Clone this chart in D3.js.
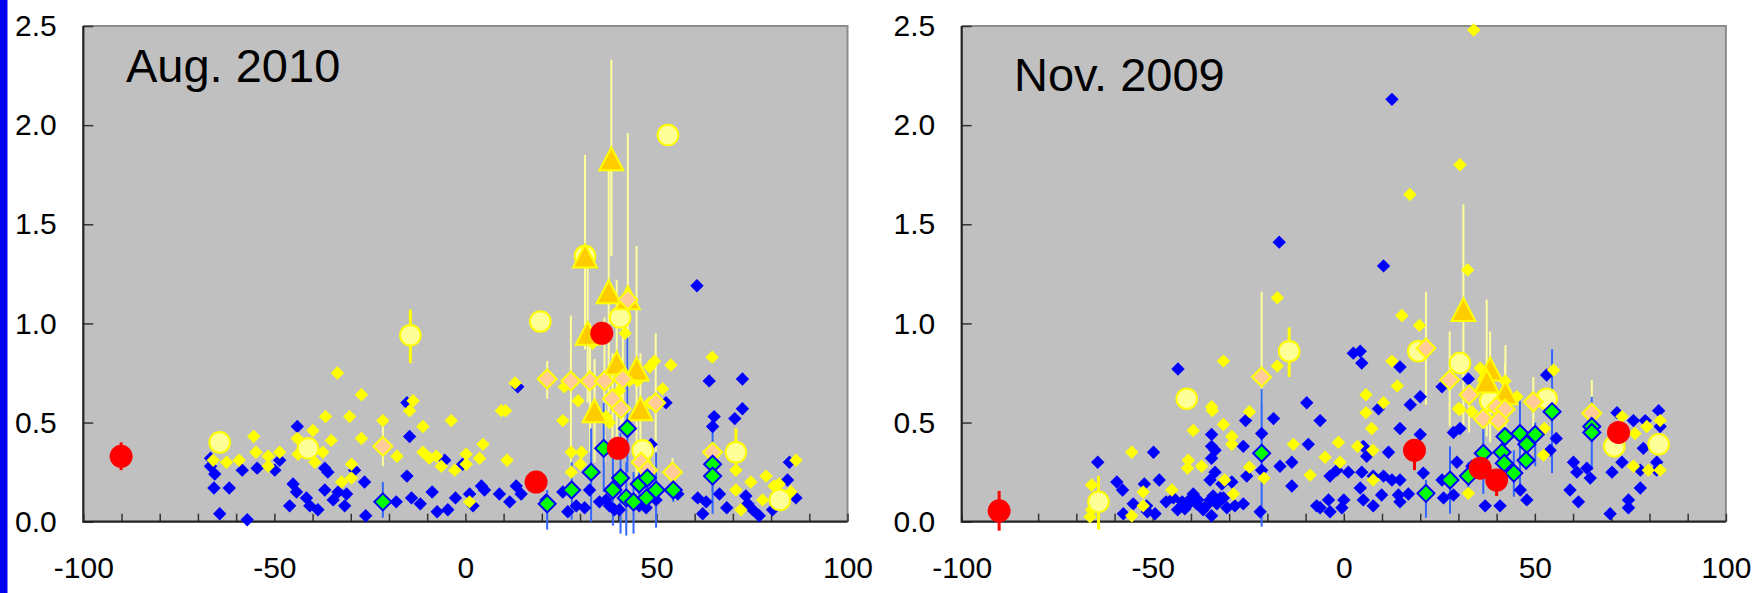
<!DOCTYPE html>
<html>
<head>
<meta charset="utf-8">
<script src="https://cdn.jsdelivr.net/npm/d3@7"></script>
<style>
  body { margin: 0; background: #fff; }
  svg { display: block; }
  text { font-family: "Liberation Sans", Arial, sans-serif; fill: #000; }
</style>
</head>
<body>
<svg id="chart" width="1758" height="593"></svg>
<script>
// eixo x: latitude, eixo y: valor medido
const xTicks = [-100, -50, 0, 50, 100];
const yTicks = [0, 0.5, 1.0, 1.5, 2.0, 2.5];
const panelTitles = ["Aug. 2010", "Nov. 2009"];

// ---- Aug. 2010 ----  pontos simples [x, y]
const augBlue = [
  [-66.7,0.32],[-66.7,0.28],[-65.6,0.24],[-65.8,0.17],[-61.8,0.17],[-64.3,0.04],[-58.4,0.26],[-57.1,0.01],
  [-54.5,0.27],[-49.9,0.26],[-48.6,0.31],[-44,0.48],[-45.1,0.19],[-46,0.08],[-44.2,0.15],[-41.6,0.12],
  [-40.7,0.08],[-38.6,0.06],[-36.8,0.27],[-36,0.25],[-36.8,0.16],[-34.6,0.11],[-33.3,0.15],[-31.1,0.14],
  [-31.6,0.08],[-29,0.26],[-26.4,0.2],[-26.1,0.03],[-18.1,0.1],[-15.3,0.23],[-14.6,0.43],[-15.3,0.6],
  [-14.1,0.12],[-11.8,0.09],[-8.7,0.15],[-7.4,0.05],[-4.6,0.06],[-5.4,0.31],[-2.6,0.12],[-0.7,0.29],
  [1.1,0.14],[2,0.08],[4.2,0.18],[5,0.16],[8.9,0.14],[11.6,0.1],[13.3,0.18],[14.6,0.14],[13.7,0.68],
  [21.1,0.11],[25.5,0.15],[26.8,0.05],[29,0.08],[31.2,0.07],[32.5,0.16],[35.1,0.1],[36.8,0.11],[37.7,0.08],
  [39,0.06],[40.3,0.06],[45.5,0.08],[47.3,0.07],[49.9,0.11],[48.6,0.39],[52.5,0.6],[55.6,0.14],[60.6,1.19],
  [60.8,0.12],[62.1,0.04],[63,0.1],[63.8,0.71],[65.1,0.53],[64.7,0.48],[66.5,0.14],[68.4,0.07],[70.5,0.52],
  [72.5,0.72],[72.5,0.57],[73.4,0.13],[73.9,0.09],[75.2,0.06],[76.9,0.03],[80.4,0.06],[84.3,0.21],
  [84.8,0.3],[86.5,0.12]
];
const augYellow = [
  [-66,0.31],[-62.5,0.3],[-59.2,0.31],[-55.4,0.43],[-54.8,0.35],[-51.6,0.33],[-51.6,0.28],[-48.6,0.35],
  [-43.8,0.34],[-44,0.42],[-39.9,0.46],[-39.4,0.3],[-37.3,0.35],[-36.6,0.53],[-35.1,0.41],[-33.5,0.75],
  [-32.4,0.2],[-30.3,0.53],[-29.8,0.29],[-29.8,0.22],[-27.2,0.64],[-27.2,0.42],[-21.6,0.51],[-17.9,0.33],
  [-14.6,0.56],[-13.7,0.61],[-11.1,0.48],[-11.1,0.35],[-9.4,0.32],[-7.6,0.33],[-6.3,0.28],[-3.7,0.51],
  [-2.8,0.26],[0.2,0.34],[0.2,0.29],[1.1,0.1],[3.7,0.32],[4.6,0.39],[9.4,0.56],[10.5,0.56],[10.9,0.31],
  [13,0.7],[25.5,0.51],[25.9,0.68],[27.7,0.35],[27.7,0.25],[29.5,0.61],[30.4,0.35],[30.1,0.29],[33.3,0.9],
  [41.8,0.95],[36.8,0.53],[37.7,0.5],[40.3,0.66],[42.9,0.71],[45.1,0.71],[48.2,0.78],[49.5,0.81],
  [53.8,0.79],[51.6,0.67],[48.2,0.6],[45.5,0.38],[64.6,0.83],[64.3,0.35],[71.2,0.34],[70.8,0.26],
  [70.8,0.16],[72.1,0.06],[74.7,0.2],[77.8,0.11],[78.7,0.23],[80.8,0.18],[82.1,0.19],[85.2,0.15],[86.5,0.31]
];
// pontos com barra de erro [x, y, min, max]
const augCircle = [
  [-64.3,0.40,0.40,0.40],[-41.2,0.37,0.37,0.37],[-14.4,0.94,0.80,1.07],[19.6,1.01,1.01,1.01],
  [53.0,1.95,1.95,1.95],[40.5,1.03,1.03,1.03],[31.3,1.34,1.34,1.34],[46.4,0.36,0.36,0.36],
  [70.8,0.35,0.23,0.47],[82.3,0.11,0.11,0.11]
];
const augTriangle = [
  [31.3,1.34,0.87,1.85],[38.2,1.83,1.34,2.33],[37.5,1.16,0.55,1.77],[42.5,1.13,0.50,1.96],
  [32.0,0.95,0.60,1.29],[39.6,0.80,0.38,1.22],[44.8,0.77,0.16,1.39],[33.8,0.56,0.30,0.82],[45.8,0.57,0.30,0.85]
];
const augPeach = [
  [-21.6,0.38,0.28,0.48],[21.4,0.72,0.62,0.81],[27.6,0.71,0.03,1.04],[32.6,0.71,0.35,1.00],
  [36.4,0.71,0.30,1.03],[41.2,0.72,0.45,1.00],[42.5,1.12,1.12,1.12],[38.5,0.62,0.40,0.85],
  [40.7,0.57,0.40,0.80],[49.8,0.60,0.25,0.95],[46.0,0.30,0.20,0.40],[47.7,0.26,0.26,0.26],
  [54.2,0.25,0.20,0.32],[64.7,0.35,0.30,0.40]
];
const augGreen = [
  [-21.6,0.10,0.02,0.20],[21.4,0.09,-0.04,0.16],[27.8,0.16,0.01,0.30],[32.9,0.25,0.00,0.47],
  [36.2,0.37,0.15,0.60],[42.4,0.47,0.25,0.93],[38.6,0.16,-0.02,0.35],[40.6,0.22,-0.06,0.45],
  [42.1,0.12,-0.07,0.30],[44.0,0.10,-0.06,0.25],[45.5,0.19,0.10,0.30],[47.6,0.22,0.15,0.30],
  [47.4,0.12,0.05,0.20],[49.9,0.16,-0.03,0.35],[54.4,0.16,0.10,0.22],[64.7,0.29,0.15,0.46],
  [64.7,0.23,0.04,0.40]
];
const augRed = [
  [-90.1,0.33,0.26,0.40],[18.5,0.20,0.20,0.20],[35.7,0.95,0.95,0.95],[40.0,0.37,0.37,0.37]
];

// ---- Nov. 2009 ----
const novBlue = [
  [-64.4,0.30],[-59.4,0.20],[-57.9,0.16],[-57.7,0.04],[-55.1,0.09],[-52.2,0.19],[-49.8,0.35],[-51.6,0.08],
  [-51.4,0.05],[-49.4,0.04],[-48.3,0.21],[-43.4,0.77],[-44.6,0.12],[-43.5,0.06],[-41.1,0.08],[-39.4,0.14],
  [-38.5,0.09],[-36.8,0.06],[-34.6,0.44],[-34.6,0.38],[-33.7,0.36],[-34.6,0.32],[-35,0.21],[-33.7,0.25],
  [-31.9,0.19],[-35,0.11],[-33.2,0.09],[-31.5,0.12],[-29.3,0.2],[-30.6,0.07],[-28.5,0.08],[-26.3,0.38],
  [-25.7,0.51],[-25.4,0.23],[-26.3,0.09],[-21.9,0.05],[-21.5,0.445],[-21.5,0.26],[-18.4,0.52],[-16.7,0.28],
  [-13.6,0.3],[-13.6,0.18],[-9.7,0.6],[-9.3,0.39],[-6.2,0.51],[-7.1,0.08],[-4,0.11],[-3.6,0.23],
  [-3.6,0.05],[-16.9,1.41],[-39.9,0.12],[-38.2,0.11],[-36,0.08],[-34.2,0.13],[-32.3,0.12],[-34.6,0.03],
  [-42.3,0.1],[-46.5,0.1],[-41.6,0.065],[-1.8,0.26],[1.2,0.25],[4.7,0.25],[4.3,0.17],[7.7,0.23],[10.4,0.23],
  [12.6,0.21],[14.7,0.21],[9.9,0.135],[5.1,0.11],[7.7,0.08],[14.3,0.135],[14.7,0.1],[16.9,0.14],[20.8,0.245],
  [25.7,0.21],[26.1,0.12],[28.7,0.135],[29.6,0.3],[28.7,0.45],[30.4,0.47],[25.7,0.68],[32.6,0.72],[37,0.08],
  [40.9,0.08],[46.2,0.16],[47.9,0.11],[54,0.36],[55.6,0.42],[53.1,0.74],[60.1,0.3],[61,0.25],[63.6,0.27],
  [64.5,0.22],[59.2,0.16],[61.4,0.1],[69.7,0.04],[70.2,0.25],[71.5,0.55],[-6.2,0.07],[0,0.11],[-0.5,0.07],
  [2.5,0.85],[4.3,0.86],[4.7,0.8],[14.7,0.78],[17.4,0.59],[20,0.63],[14.7,0.47],[9.1,0.57],[5.1,0.38],
  [6,0.33],[11.7,0.35],[20,0.44],[10.4,1.29],[12.6,2.13],[33.5,0.28],[72.8,0.3],[74.5,0.11],[74.5,0.07],
  [75.8,0.51],[77.6,0.17],[78.4,0.37],[77.6,0.26],[78.9,0.51],[82.4,0.56],[81.9,0.3],[82.8,0.48],[81.9,0.26]
];
const novYellow = [
  [-66,0.185],[-66.4,0.025],[-66,0.06],[-55.5,0.35],[-55.5,0.03],[-52.5,0.15],[-52.5,0.08],[-45,0.16],
  [-40.7,0.31],[-40.9,0.27],[-39.4,0.46],[-37.2,0.28],[-34.6,0.58],[-34.4,0.56],[-31.5,0.81],[-31.5,0.49],
  [-31.2,0.21],[-29.3,0.43],[-29.3,0.39],[-28.9,0.14],[-24.7,0.555],[-24.7,0.275],[-20.9,0.22],[-17.4,1.13],
  [-17.4,0.785],[-13.2,0.39],[-8.8,0.235],[-4.9,0.325],[-1.4,0.4],[-1,0.3],[3.6,0.38],[7.6,0.36],[7.7,0.21],
  [5.8,0.64],[5.8,0.55],[10.4,0.6],[7.3,0.47],[12.6,0.81],[14,0.685],[15.2,1.04],[19.8,0.99],[17.3,1.65],
  [30.4,1.8],[34,2.48],[32.4,1.27],[30.4,0.567],[35.7,0.774],[32.6,0.143],[54.9,0.765],[52.3,0.336],
  [52.5,0.47],[64.9,0.555],[72.8,0.53],[75.8,0.28],[79.7,0.26],[79.3,0.48],[82.8,0.51],[82.8,0.26],
  [76.2,0.445],[33.5,0.555],[30,0.57],[45.3,0.63],[42.2,0.71]
];
const novCircle = [
  [-64.2,0.10,-0.04,0.23],[-41.1,0.62,0.62,0.62],[-14.3,0.86,0.73,0.98],[19.5,0.86,0.86,0.86],
  [30.4,0.80,0.80,0.80],[38.3,0.61,0.61,0.61],[53.1,0.62,0.62,0.62],[70.8,0.38,0.38,0.38],[82.4,0.39,0.39,0.39]
];
const novTriangle = [
  [31.3,1.07,0.46,1.60],[38.3,0.77,0.40,0.96],[37.4,0.71,0.43,1.12],[42.3,0.65,0.40,0.89]
];
const novPeach = [
  [-21.5,0.73,0.60,1.16],[21.5,0.875,0.59,1.16],[27.7,0.715,0.48,0.96],[32.8,0.64,0.45,0.70],
  [36.5,0.52,0.52,0.52],[40.0,0.58,0.58,0.58],[42.2,0.567,0.45,0.80],[40.5,0.51,0.51,0.51],
  [49.6,0.605,0.48,0.73],[64.9,0.547,0.45,0.715]
];
const novGreen = [
  [-21.5,0.345,-0.025,0.67],[21.5,0.143,0.02,0.21],[27.8,0.21,0.04,0.38],[32.6,0.23,0.15,0.30],
  [36.5,0.345,0.14,0.50],[41.4,0.35,0.25,0.45],[42.2,0.43,0.43,0.43],[46.1,0.445,0.16,0.61],
  [50.1,0.44,0.28,0.50],[47.9,0.39,0.39,0.39],[47.7,0.31,0.31,0.31],[42.0,0.295,0.295,0.295],
  [44.5,0.245,0.126,0.36],[54.5,0.555,0.245,0.87],[64.9,0.48,0.26,0.63],[64.9,0.45,0.45,0.45]
];
const novRed = [
  [-90.2,0.055,-0.045,0.155],[18.5,0.36,0.26,0.38],[35.7,0.27,0.27,0.27],[40.0,0.21,0.13,0.25],[71.9,0.45,0.45,0.45]
];

// layout
const plotTop = 26, plotH = 495.7, plotW = 764.2;
const panels = [
  { title: panelTitles[0], left: 83.3, titleX: 126, titleY: 82,
    blue: augBlue, yellow: augYellow, circle: augCircle, tri: augTriangle, peach: augPeach, green: augGreen, red: augRed },
  { title: panelTitles[1], left: 961.7, titleX: 1014, titleY: 91,
    blue: novBlue, yellow: novYellow, circle: novCircle, tri: novTriangle, peach: novPeach, green: novGreen, red: novRed }
];

const diamond = r => `M0,${-r}L${r},0L0,${r}L${-r},0Z`;
const triangle = (w, h) => `M0,${-h / 2}L${w / 2},${h / 2}L${-w / 2},${h / 2}Z`;

const svg = d3.select('#chart');

// faixa azul na borda esquerda
svg.append('rect').attr('x', 0).attr('y', 0).attr('width', 7.5).attr('height', 593).attr('fill', '#0000f0');

panels.forEach(p => {
  const x = d3.scaleLinear().domain([-100, 100]).range([0, plotW]);
  const y = d3.scaleLinear().domain([0, 2.5]).range([plotH, 0]);
  const g = svg.append('g').attr('transform', `translate(${p.left},${plotTop})`);

  g.append('rect').attr('width', plotW).attr('height', plotH).attr('fill', '#c0c0c0');
  g.append('path').attr('d', `M0,0H${plotW}V${plotH}`)
    .attr('fill', 'none').attr('stroke', '#8c8c8c').attr('stroke-width', 2);

  // marcas menores do eixo x
  const minor = g.append('g').attr('transform', `translate(0,${plotH})`)
    .call(d3.axisBottom(x).tickValues(d3.range(-100, 101, 10)).tickSize(-8).tickFormat(''));
  minor.select('.domain').remove();
  minor.selectAll('line').attr('stroke', '#333').attr('stroke-width', 1.5);

  // rótulos do eixo x
  const xa = g.append('g').attr('transform', `translate(0,${plotH})`)
    .call(d3.axisBottom(x).tickValues(xTicks).tickSize(0).tickPadding(35.5).tickFormat(d => String(d)));
  xa.select('.domain').remove();
  xa.selectAll('text').attr('font-size', 30).attr('fill', '#000');

  // eixo y
  const ya = g.append('g')
    .call(d3.axisLeft(y).tickValues(yTicks).tickSizeInner(-10).tickSizeOuter(0).tickPadding(26.5).tickFormat(d3.format('.1f')));
  ya.select('.domain').remove();
  ya.selectAll('line').attr('stroke', '#333').attr('stroke-width', 1.5);
  ya.selectAll('text').attr('font-size', 30).attr('fill', '#000');

  g.append('path').attr('d', `M0,0V${plotH}H${plotW}`)
    .attr('fill', 'none').attr('stroke', '#222').attr('stroke-width', 2.2);

  g.append('text').attr('x', p.titleX - p.left).attr('y', p.titleY - plotTop)
    .attr('font-size', 47).text(p.title);

  // barras de erro
  const bars = (data, color, width) => {
    g.append('g').selectAll('line')
      .data(data.filter(d => d[2] !== d[3]))
      .join('line')
      .attr('x1', d => x(d[0])).attr('x2', d => x(d[0]))
      .attr('y1', d => y(d[2])).attr('y2', d => y(d[3]))
      .attr('stroke', color).attr('stroke-width', width);
  };
  bars(p.tri, '#ffff99', 2);
  bars(p.peach, '#ffff99', 2);
  bars(p.circle, '#ffff00', 3);
  bars(p.green, '#3366ff', 2);
  bars(p.red, '#ff0000', 3);

  const marks = (data, pathStr, fill, stroke, sw) => {
    g.append('g').selectAll('path')
      .data(data)
      .join('path')
      .attr('transform', d => `translate(${x(d[0])},${y(d[1])})`)
      .attr('d', pathStr)
      .attr('fill', fill)
      .attr('stroke', stroke)
      .attr('stroke-width', sw);
  };
  marks(p.blue, diamond(6.7), '#0000ff', 'none', 0);
  marks(p.yellow, diamond(6.7), '#ffff00', 'none', 0);

  g.append('g').selectAll('circle')
    .data(p.circle)
    .join('circle')
    .attr('cx', d => x(d[0])).attr('cy', d => y(d[1])).attr('r', 10.3)
    .attr('fill', '#ffff99').attr('stroke', '#ffff00').attr('stroke-width', 2);

  marks(p.tri, triangle(24, 23), '#ffcc00', '#ffff00', 2);
  marks(p.peach, diamond(9.5), '#ffcc99', '#ffff00', 2);
  marks(p.green, diamond(8.5), '#00ff00', '#0000ff', 2);

  g.append('g').selectAll('circle')
    .data(p.red)
    .join('circle')
    .attr('cx', d => x(d[0])).attr('cy', d => y(d[1])).attr('r', 11.5)
    .attr('fill', '#ff0000');
});
</script>
</body>
</html>
